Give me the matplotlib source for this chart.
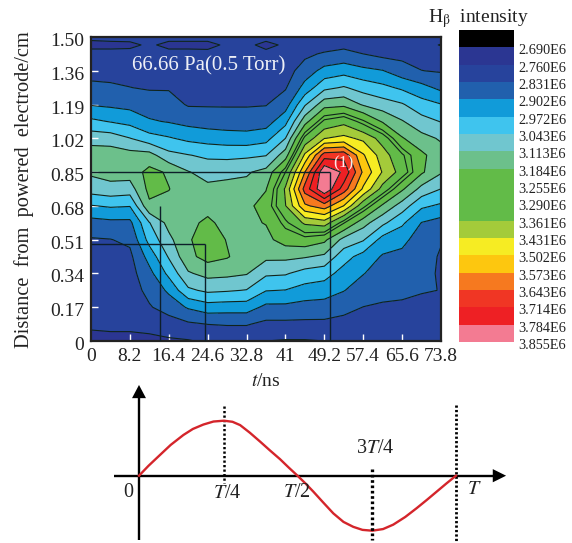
import numpy as np
import matplotlib
matplotlib.use("Agg")
import matplotlib.pyplot as plt
from matplotlib.colors import ListedColormap
from matplotlib.patches import Polygon
from matplotlib.transforms import ScaledTranslation

plt.rcParams['font.family'] = ['Liberation Serif', 'DejaVu Serif']
plt.rcParams['mathtext.fontset'] = 'stix'

# Data
time_ns = [0, 4.1, 8.2, 12.3, 16.4, 20.5, 24.6, 28.7, 32.8, 36.9, 41, 45.1, 49.2, 53.3, 57.4, 61.5, 65.6, 69.7, 73.8]
distance_cm = [1.53, 1.49, 1.445, 1.36, 1.275, 1.19, 1.105, 1.02, 0.935, 0.85, 0.765, 0.68, 0.595, 0.51, 0.425, 0.34, 0.255, 0.17, 0.085, 0]
# one list per time column, from the top row to the bottom row (x 1000)
intensity = [
 [2780,2735,2790,2810,2845,2897,2987,3086,3150,3125,3075,2968,2876,2825,2810,2800,2795,2785,2768,2745],
 [2790,2735,2790,2810,2840,2889,2968,3080,3150,3140,3090,2980,2885,2829,2810,2805,2800,2790,2772,2745],
 [2790,2740,2790,2810,2832,2880,2950,3045,3140,3145,3080,2975,2885,2845,2815,2805,2800,2790,2772,2745],
 [2790,2775,2790,2810,2825,2864,2910,3000,3140,3205,3205,3170,3040,2997,2930,2880,2850,2825,2780,2745],
 [2790,2735,2790,2810,2825,2859,2897,2979,3064,3175,3186,3165,3135,3095,3050,2990,2915,2860,2800,2750],
 [2790,2735,2790,2805,2820,2825,2880,2955,3046,3117,3150,3165,3170,3175,3165,3105,3030,2910,2820,2755],
 [2790,2735,2785,2800,2815,2825,2870,2943,3030,3087,3130,3165,3195,3225,3210,3135,3057,2940,2832,2770],
 [2790,2775,2785,2800,2815,2825,2865,2935,3025,3095,3135,3150,3165,3180,3190,3130,3050,2935,2836,2775],
 [2790,2780,2785,2800,2815,2825,2865,2930,3030,3105,3135,3165,3172,3165,3145,3118,3040,2935,2836,2775],
 [2790,2735,2785,2800,2820,2828,2870,2948,3040,3135,3180,3215,3187,3165,3130,3055,2975,2885,2815,2760],
 [2790,2775,2785,2800,2825,2870,2950,3043,3150,3290,3372,3358,3275,3215,3130,3050,2970,2885,2815,2755],
 [2790,2785,2815,2865,2927,3035,3155,3308,3445,3573,3672,3560,3375,3230,3120,3015,2945,2875,2815,2755],
 [2775,2795,2840,2925,3025,3155,3305,3429,3680,3850,3850,3610,3400,3200,3100,3000,2935,2872,2815,2760],
 [2800,2815,2850,2945,3050,3165,3340,3450,3690,3770,3680,3500,3260,3090,3000,2945,2905,2850,2810,2770],
 [2810,2805,2831,2920,3015,3105,3265,3415,3510,3560,3490,3310,3140,3050,2945,2905,2865,2830,2800,2770],
 [2810,2790,2810,2905,2990,3075,3175,3330,3395,3425,3335,3170,3060,2945,2895,2870,2845,2825,2800,2775],
 [2810,2795,2810,2860,2960,3050,3118,3190,3300,3330,3195,3080,2985,2920,2885,2865,2845,2820,2800,2780],
 [2800,2790,2805,2832,2925,3000,3070,3135,3200,3195,3090,2985,2900,2870,2855,2845,2835,2815,2795,2775],
 [2800,2755,2800,2825,2885,2975,3040,3105,3140,3120,3042,2960,2875,2835,2825,2825,2830,2810,2790,2770],
]
levels = [2690, 2760, 2831, 2902, 2972, 3043, 3113, 3184, 3255, 3290, 3361, 3431, 3502, 3573, 3643, 3714, 3784, 3855]
band_colors = ['#2b3692', '#27439c', '#2160ad', '#119bd9', '#3fc4ee', '#70c6cf', '#6cc08b',
               '#62bb48', '#62bb48', '#62bb48', '#a4cb3a', '#f6ec23', '#fdc70f', '#f6791f',
               '#f03624', '#ee2024', '#f37b92']
x_ticks = [0, 8.2, 16.4, 24.6, 32.8, 41, 49.2, 57.4, 65.6, 73.8]
x_tick_labels = ['0', '8.2', '16.4', '24.6', '32.8', '41', '49.2', '57.4', '65.6', '73.8']
y_ticks = [0, 0.17, 0.34, 0.51, 0.68, 0.85, 1.02, 1.19, 1.36, 1.53]
y_tick_labels = ['0', '0.17', '0.34', '0.51', '0.68', '0.85', '1.02', '1.19', '1.36', '1.50']
guide_t = [14.5, 24.0, 50.3]
guide_d = [0.68, 0.49, 0.85]

wave_t = [0, .03, .066, .10, .14, .17, .203, .235, .268, .295, .319, .35, .382, .413, .445, .472, .5,
          .525, .55, .58, .613, .645, .676, .705, .736, .77, .802, .84, .876, .908, .939, .97, 1]
wave_v = [0, .18, .376, .56, .74, .85, .93, .985, 1, .98, .92, .78, .62, .46, .30, .15, 0,
          -.14, -.29, -.48, -.685, -.84, -.93, -.985, -1, -.97, -.89, -.75, -.59, -.44, -.29, -.14, 0]

W, H = 572, 543
fig = plt.figure(figsize=(W / 100, H / 100), dpi=100, facecolor='white')

def axes_px(x0, y0, x1, y1):
    return fig.add_axes([x0 / W, 1 - y1 / H, (x1 - x0) / W, (y1 - y0) / H])

# Contour map
ax = axes_px(91, 37, 441, 341)
Z = np.array(intensity).T
ax.contourf(time_ns, distance_cm, Z, levels=levels, colors=band_colors)
ax.contour(time_ns, distance_cm, Z, levels=levels, colors='#10241c', linewidths=0.8)
ax.set_xlim(0, 73.8)
ax.set_ylim(0, 1.53)
ax.set_xticks(x_ticks, x_tick_labels)
ax.set_yticks(y_ticks, y_tick_labels)
ax.tick_params(direction='in', color='white', width=1, length=5, labelsize=14, pad=5, labelcolor='#222222')
for tick in [ax.yaxis.get_major_ticks()[0], ax.yaxis.get_major_ticks()[-1],
             ax.xaxis.get_major_ticks()[0], ax.xaxis.get_major_ticks()[-1]]:
    tick.tick1line.set_visible(False)
shift = ScaledTranslation(0, -2.5 / 100, fig.dpi_scale_trans)
for lab in ax.get_yticklabels():
    lab.set_transform(lab.get_transform() + shift)
for s in ax.spines.values():
    s.set_linewidth(1.6)
    s.set_color('#222222')

for t, d in zip(guide_t, guide_d):
    ax.plot([0, t], [d, d], color='#0d1f2a', lw=1.0, zorder=5, solid_capstyle='butt')
    ax.plot([t, t], [0, d], color='#0d1f2a', lw=1.0, zorder=5, solid_capstyle='butt')
ax.lines[0].set_visible(False)  # the first guide only runs downwards

ax.text(8.6, 1.385, '66.66 Pa(0.5 Torr)', color='white', fontsize=15, ha='left', va='center', alpha=0.92)
ax.text(53.2, 0.895, '(1)', color='white', fontsize=12.5, ha='center', va='center', alpha=0.92)
ax.set_xlabel('$t$/ns', fontsize=14, labelpad=6, color='#222222')
fig.text(24 / W, 1 - 190 / H, 'Distance  from  powered  electrode/cm', rotation=90,
         ha='center', va='center', fontsize=14.7, color='#222222')

# Colour key
cax = axes_px(459, 30, 514, 342)
key_colors = ['black'] + band_colors
cax.pcolormesh([0, 1], np.arange(len(key_colors) + 1), np.arange(len(key_colors)).reshape(-1, 1),
               cmap=ListedColormap(key_colors), shading='flat')
cax.set_ylim(len(key_colors), 0)
cax.set_xlim(0, 1)
cax.set_xticks([])
cax.yaxis.tick_right()
cax.set_yticks(np.arange(1, len(key_colors) + 1), [f'{v / 1000:.3f}E6' for v in levels])
cax.tick_params(length=0, labelsize=10.3, pad=3, labelcolor='#222222')
shift2 = ScaledTranslation(0, -2.0 / 100, fig.dpi_scale_trans)
for lab in cax.get_yticklabels():
    lab.set_transform(lab.get_transform() + shift2)
for s in cax.spines.values():
    s.set_visible(False)
fig.text(428 / W, 1 - 19 / H, r'H$_{\mathrm{\beta}}$  intensity', fontsize=14, ha='left', va='center', color='#222222')

# Voltage waveform sketch
sx = axes_px(100, 375, 520, 543)
sx.set_xlim((100 - 139) / 317, (520 - 139) / 317)
sx.set_ylim((475.7 - 543) / 55, (475.7 - 375) / 55)
sx.axis('off')
sx.plot(wave_t, wave_v, color='#d4252b', lw=1.7, zorder=3)
sx.plot([-0.08, 1.12], [0, 0], color='black', lw=1.7, zorder=2, solid_capstyle='butt')
sx.plot([0, 0], [-1.17, 1.45], color='black', lw=1.7, zorder=2, solid_capstyle='butt')
sx.add_patch(Polygon([[1.116, 0.12], [1.158, 0], [1.116, -0.12]], closed=True, color='black', zorder=4, lw=0))
sx.add_patch(Polygon([[-0.022, 1.41], [0.0, 1.65], [0.022, 1.41]], closed=True, color='black', zorder=4, lw=0))
sx.plot([wave_t[8]] * 2, [1.26, -0.14], color='black', lw=1.8, ls=(0, (0.9, 0.9)), zorder=2)
sx.plot([wave_t[24]] * 2, [0.13, -1.17], color='black', lw=2.4, ls=(0, (0.8, 0.8)), zorder=4)
sx.plot([1, 1], [1.28, -1.2], color='black', lw=2.0, ls=(0, (0.8, 0.8)), zorder=2)
for label, t, v in [('0', -0.035, -0.30), ('$T$/4', 0.277, -0.33), ('$T$/2', 0.497, -0.30),
                    ('3$T$/4', 0.746, 0.50), ('$T$', 1.058, -0.26)]:
    sx.text(t, v, label, fontsize=14.5, ha='center', va='center', color='#222222')

fig.savefig('out.png', dpi=100, facecolor='white')
